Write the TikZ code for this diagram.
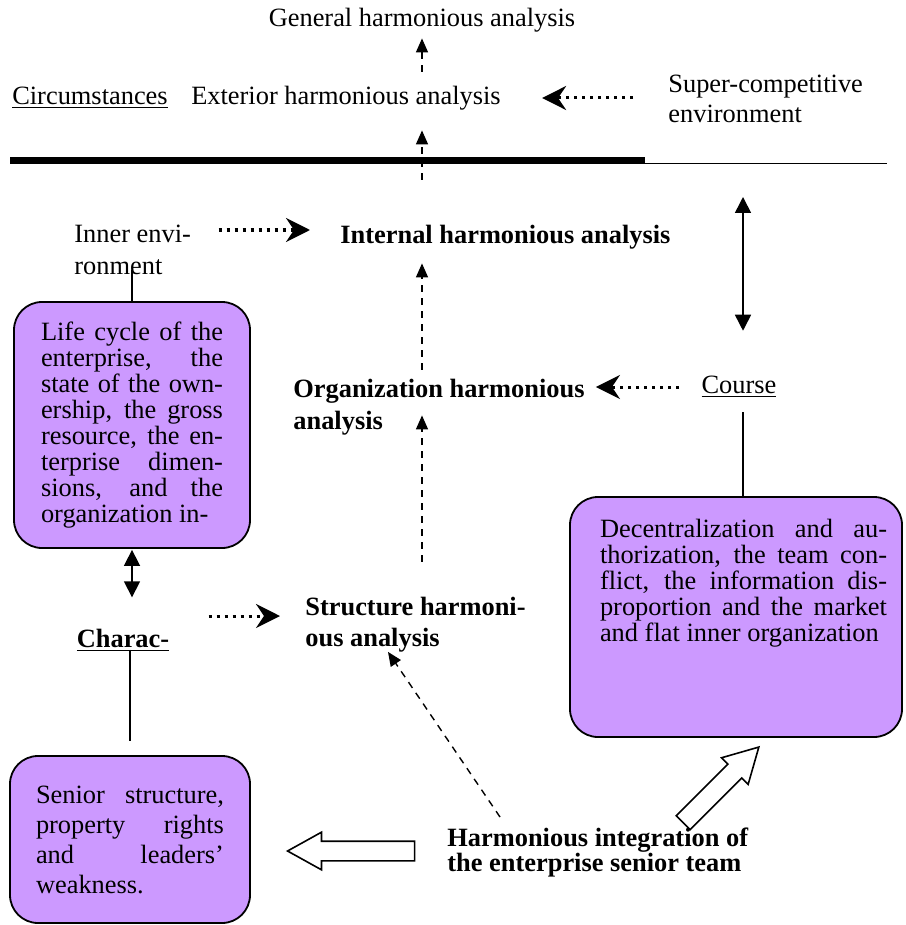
\documentclass[tikz,border=0pt]{standalone}
\usepackage{fontspec}
\setmainfont{Liberation Serif}
\usetikzlibrary{arrows.meta,shapes.arrows,calc}
\definecolor{boxpurple}{HTML}{CC99FF}
\tolerance=10000
\hbadness=10000

\begin{document}
\begin{tikzpicture}[x=0.5pt, y=-0.5pt,
  lbl/.style={inner sep=2pt, font=\fontsize{13.2}{16}\selectfont},
  blbl/.style={lbl, font=\fontsize{13.2}{16}\selectfont\bfseries, align=left},
  pbox/.style={draw, line width=0.9pt, fill=boxpurple, rounded corners=14pt},
  ptext/.style={align=justify, inner sep=0pt, font=\fontsize{13.2}{13}\selectfont},
  dasharr/.style={-{Triangle[length=7pt,width=6pt]}, line width=0.7pt, dash pattern=on 3.5pt off 3pt},
  dotarr/.style={-{Stealth[length=12pt,width=12pt,inset=4pt]}, line width=1.5pt, dash pattern=on 1.5pt off 2.5pt},
  dblarr/.style={{Triangle[length=8pt,width=8pt]}-{Triangle[length=8pt,width=8pt]}, line width=0.8pt},
  link/.style={line width=0.8pt},
  fatarr/.style={draw, line width=0.8pt, fill=white, single arrow, single arrow tip angle=58, single arrow head extend=4.5pt, inner xsep=0pt, inner ysep=4.5pt}]
\useasboundingbox (0,0) rectangle (905,925);
\coordinate (mid) at (422,0);
\coordinate (rcol) at (743,0);
\coordinate (barL) at (10,160.5);
\coordinate (barM) at (645,160.5);
\coordinate (barR) at (887,163.5);
\node[lbl] (gen) at (422,20) {General harmonious analysis};
\node[lbl] (circ) at (90,98) {\underline{Circumstances}};
\node[lbl] (ext) at (346,98) {Exterior harmonious analysis};
\node[lbl, align=left, anchor=west, font=\fontsize{13.2}{15}\selectfont] (sup) at (664,99) {Super-competitive\\environment};
\node[lbl, align=left, anchor=west] (inner) at (70,250) {Inner envi-\\ronment};
\node[blbl, anchor=west] (internal) at (336,237) {Internal harmonious analysis};
\node[blbl, anchor=west] (org) at (289,407) {Organization harmonious\\analysis};
\node[lbl] (course) at (739,387) {\underline{Course}};
\node[blbl, anchor=west, font=\fontsize{13.2}{15.5}\selectfont\bfseries] (struct) at (301,625) {Structure harmoni-\\ous analysis};
\node[blbl] (charac) at (123,640) {\underline{Charac-}};
\node[blbl, anchor=west, font=\fontsize{13.2}{12.5}\selectfont\bfseries] (harm) at (443,853) {Harmonious integration of\\the enterprise senior team};
\node[pbox, ptext, minimum width=118pt, minimum height=123pt, text width=91pt] (life) at (132,425) {\parfillskip=0pt Life cycle of the\linebreak enterprise, the\linebreak state of the own-\linebreak ership, the gross\linebreak resource, the en-\linebreak terprise dimen-\linebreak sions, and the\linebreak organization in-};
\node[pbox, minimum width=166pt, minimum height=120pt] (dec) at (736,617) {};
\node[ptext, text width=143.5pt, anchor=north] (dectext) at ([xshift=3.75pt,yshift=-11.5pt]dec.north) {Decentralization and au-\linebreak thorization, the team con-\linebreak flict, the information dis-\linebreak proportion and the market\linebreak and flat inner organization};
\node[pbox, ptext, font=\fontsize{13.2}{15}\selectfont, minimum width=120pt, minimum height=83.5pt, text width=94pt] (senior) at (130,839.5) {Senior structure,\linebreak property rights\linebreak and leaders'\linebreak weakness.};
\node[fatarr, minimum height=63.5pt, rotate=180, anchor=tip] (fa1) at ($(senior.east |- harm.west)+(35,-2)$) {};
\node[fatarr, minimum height=53.5pt, rotate=45, anchor=tip] (fa2) at ($(dec.south)+(24,8)$) {};
\draw[line width=3.5pt] (barL) -- (barM);
\draw[line width=0.6pt] (barM |- barR) -- (barR);
\draw[dasharr, shorten <=5pt, shorten >=1pt] (mid |- ext.north) -- (mid |- gen.south);
\draw[dasharr, shorten <=20.5pt, shorten >=8pt] (mid |- internal.north) -- (mid |- ext.south);
\draw[dasharr, shorten <=2.5pt, shorten >=5pt] (mid |- org.north) -- (mid |- internal.south);
\draw[dasharr, shorten <=15.75pt, shorten >=-12pt] (mid |- struct.north) -- (mid |- org.south);
\draw[dasharr] ($(harm.north west)+(57,-7)$) -- ($(struct.south west)+(87,-5)$);
\draw[dotarr, shorten <=15.5pt, shorten >=18.5pt] (sup.west |- ext.east) -- (ext.east);
\draw[dotarr, shorten <=11.7pt, shorten >=13pt] ($(inner.east |- internal.west)+(0,-7)$) -- ($(internal.west)+(0,-7)$);
\draw[dotarr, shorten <=9pt, shorten >=3.5pt] (course.west) -- (org.east |- course.west);
\draw[dotarr, shorten <=17.5pt, shorten >=10.5pt] ($(charac.east |- struct.west)+(0,-9)$) -- ($(struct.west)+(0,-9)$);
\draw[link, shorten >=-4.5pt] (life.north) -- (life.north |- inner.south);
\draw[link, shorten >=5pt] (rcol |- dec.north) -- (rcol |- course.south);
\draw[link, shorten <=-3pt, shorten >=7pt] (senior.north |- charac.south) -- (senior.north);
\draw[dblarr, shorten <=20.5pt, shorten >=16.75pt] (rcol |- course.north) -- (rcol |- barR);
\draw[dblarr, shorten <=0.5pt, shorten >=13.5pt] (life.south) -- (life.south |- charac.north);
\end{tikzpicture}
\end{document}
